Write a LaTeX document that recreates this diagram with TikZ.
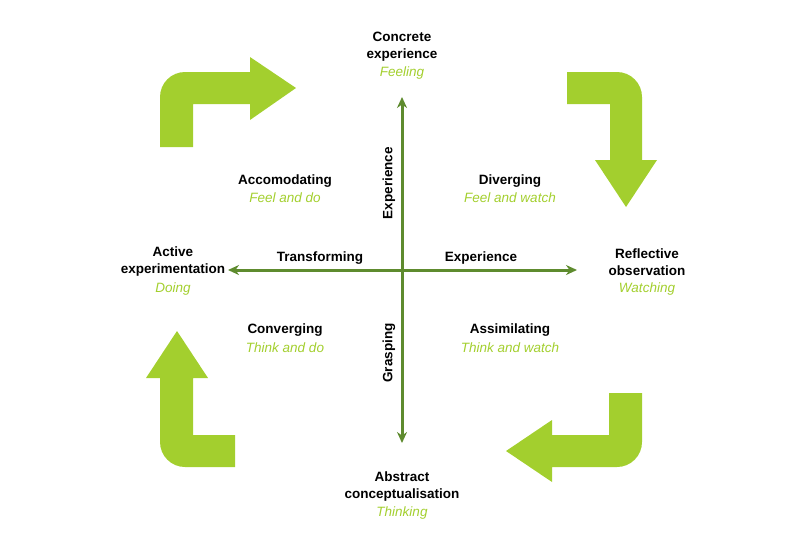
\documentclass[tikz,border=0pt]{standalone}
\usepackage{fontspec}
\setmainfont{Liberation Sans}
\usetikzlibrary{arrows.meta}
\definecolor{lg}{HTML}{A3CF2E}
\definecolor{dg}{HTML}{5E8B2E}
\tikzset{
  bent/.style={fill=lg,draw=none},
  lbl/.style={font=\fontsize{13.5}{17}\selectfont\bfseries,align=center,inner sep=0pt},
  sub/.style={font=\fontsize{13.5}{17}\selectfont\itshape,text=lg,inner sep=0pt},
  axis/.style={draw=dg,line width=3pt,{Stealth[length=11pt,width=10pt]}-{Stealth[length=11pt,width=10pt]}}
}
\begin{document}
\begin{tikzpicture}[x=1pt,y=-1pt]
\useasboundingbox (0,0) rectangle (803,552);
% bent arrows
\fill[bent] (160,147) -- (160,97) arc[start angle=180,end angle=90,x radius=25,y radius=-25] -- (250,72) -- (250,57) -- (296,88) -- (250,120) -- (250,104) -- (193,104) -- (193,147) -- cycle;
\fill[bent] (567,72) -- (617,72) arc[start angle=90,end angle=0,x radius=25,y radius=-25] -- (642,160) -- (657,160) -- (626,207) -- (595,160) -- (610,160) -- (610,104) -- (567,104) -- cycle;
\fill[bent] (642,393) -- (642,442) arc[start angle=0,end angle=-90,x radius=25,y radius=-25] -- (552,467) -- (552,482) -- (506,451) -- (552,420) -- (552,435) -- (609,435) -- (609,393) -- cycle;
\fill[bent] (235,467) -- (185,467) arc[start angle=270,end angle=180,x radius=25,y radius=-25] -- (160,378) -- (146,378) -- (177,331) -- (208,378) -- (193,378) -- (193,435) -- (235,435) -- cycle;
% axes
\coordinate (top) at (402,97);
\coordinate (bot) at (402,443);
\coordinate (lft) at (228,270);
\coordinate (rgt) at (577,270);
\draw[axis] (top) -- (bot);
\draw[axis] (lft) -- (rgt);
% labels
\node[lbl] (ce) at (402,47) {Concrete\\experience};
\node[sub] (ces) at (402,73) {Feeling};
\node[lbl] (acc) at (285,181) {Accomodating};
\node[sub] (accs) at (285,198) {Feel and do};
\node[lbl] (div) at (510,181) {Diverging};
\node[sub] (divs) at (510,198) {Feel and watch};
\node[lbl] (ae) at (173,262) {Active\\experimentation};
\node[sub] (aes) at (173,289) {Doing};
\node[lbl] (ro) at (647,262) {Reflective\\observation};
\node[sub] (ros) at (647,289) {Watching};
\node[lbl] (tr) at (320,258) {Transforming};
\node[lbl] (ex) at (481,258) {Experience};
\node[lbl] (con) at (285,330) {Converging};
\node[sub] (cons) at (285,348) {Think and do};
\node[lbl] (ass) at (510,330) {Assimilating};
\node[sub] (asss) at (510,348) {Think and watch};
\node[lbl] (ac) at (402,487) {Abstract\\conceptualisation};
\node[sub] (acs) at (402,513) {Thinking};
\node[lbl,rotate=90] (exv) at (389,183) {Experience};
\node[lbl,rotate=90] (gr) at (389,353) {Grasping};
\end{tikzpicture}
\end{document}
